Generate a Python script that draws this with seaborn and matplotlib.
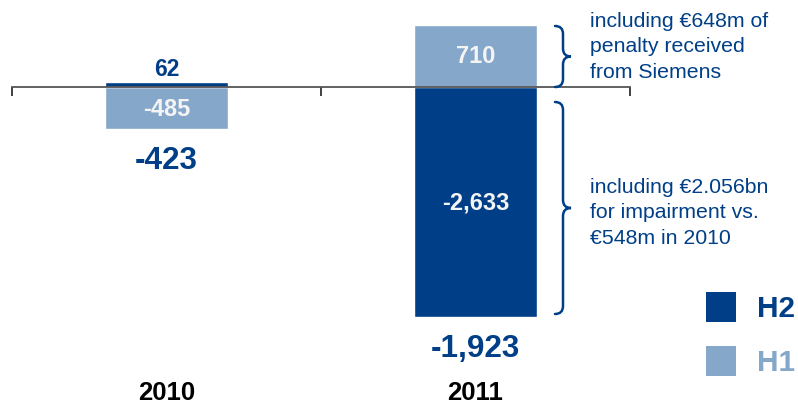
import matplotlib
matplotlib.use("Agg")
import matplotlib.pyplot as plt
import numpy as np
import pandas as pd
import seaborn as sns
from matplotlib.path import Path
from matplotlib.patches import PathPatch, Rectangle

# ---- data ----
years = ["2010", "2011"]
h1_values = [-485, 710]
h2_values = [62, -2633]
h1_labels = ["-485", "710"]
h2_labels = ["62", "-2,633"]
total_labels = ["-423", "-1,923"]
series = ["H2", "H1"]
notes = [
    "including €648m of\npenalty received\nfrom Siemens",
    "including €2.056bn\nfor impairment vs.\n€548m in 2010",
]

DARK = "#003F87"
LIGHT = "#85A7C9"

sns.set_theme(style="white")
plt.rcParams["font.family"] = ["Liberation Sans", "DejaVu Sans"]

W, H = 798, 406
fig = plt.figure(figsize=(W / 100, H / 100), dpi=100)
ax = fig.add_axes([12 / W, 0, 618 / W, 1])

df = pd.DataFrame({
    "year": years * 2,
    "value": h1_values + h2_values,
    "half": ["H1"] * len(years) + ["H2"] * len(years),
})
sns.barplot(data=df, x="year", y="value", hue="half",
            palette={"H1": LIGHT, "H2": DARK}, dodge=False, width=0.4,
            saturation=1, errorbar=None, legend=False, ax=ax)

ax.set_xlim(-0.5, 1.5)
ax.set_ylim(-3634, 1006)
ax.set_xlabel("")
ax.set_ylabel("")
ax.set_yticks([])
for s in ["left", "right", "top"]:
    ax.spines[s].set_visible(False)
ax.spines["bottom"].set_position(("data", 0))
ax.spines["bottom"].set_color("#555555")
ax.spines["bottom"].set_linewidth(1.3)
ax.spines["bottom"].set_zorder(5)
ax.set_xticks([-0.5, 0.5, 1.5])
ax.set_xticklabels(["", "", ""])
ax.tick_params(axis="x", direction="out", length=6.5, width=1.3,
               color="#333333", bottom=True)
ax.set_facecolor("white")

# value labels
for i in range(len(years)):
    for vals, labs in ((h1_values, h1_labels), (h2_values, h2_labels)):
        v = vals[i]
        if abs(v) < 200:
            ax.annotate(labs[i], xy=(i, v), xytext=(0, 2), textcoords="offset pixels",
                        ha="center", va="bottom", fontsize=16.5, fontweight="bold",
                        color=DARK)
        else:
            ax.text(i, v / 2, labs[i], ha="center", va="center", fontsize=17,
                    fontweight="bold", color="#F4F4F4", zorder=6)
    low = min(h1_values[i], h2_values[i], 0)
    ax.annotate(total_labels[i], xy=(i, low), xytext=(0, -16), textcoords="offset pixels",
                ha="center", va="top", fontsize=22.7, fontweight="bold", color=DARK)
    ax.text(i, 1 - 393 / H, years[i], transform=ax.get_xaxis_transform(),
            ha="center", va="center", fontsize=18.5, fontweight="bold", color="black")

# overlay in pixel coordinates for notes, braces and legend
ov = fig.add_axes([0, 0, 1, 1])
ov.set_xlim(0, W)
ov.set_ylim(H, 0)
ov.axis("off")
ov.patch.set_alpha(0)


def brace(x, y0, y1, w=8, r=8):
    ym = (y0 + y1) / 2
    verts = [(x - w, y0), (x, y0), (x, y0 + r),
             (x, ym - r), (x, ym), (x + w, ym),
             (x, ym), (x, ym + r),
             (x, y1 - r), (x, y1), (x - w, y1)]
    codes = [Path.MOVETO, Path.CURVE3, Path.CURVE3,
             Path.LINETO, Path.CURVE3, Path.CURVE3,
             Path.CURVE3, Path.CURVE3,
             Path.LINETO, Path.CURVE3, Path.CURVE3]
    ov.add_patch(PathPatch(Path(verts, codes), fill=False, lw=1.8,
                           edgecolor=DARK, capstyle="round"))


brace(563, 27, 88)
brace(563, 103, 315)

ov.text(590, 47, notes[0], ha="left", va="center", fontsize=15.3,
        color=DARK, linespacing=1.45)
ov.text(590, 213, notes[1], ha="left", va="center", fontsize=15.3,
        color=DARK, linespacing=1.45)

# legend
for name, y, col in ((series[0], 293, DARK), (series[1], 347, LIGHT)):
    ov.add_patch(Rectangle((706, y), 30, 30, facecolor=col, edgecolor="none"))
    ov.text(757, y + 16, name, ha="left", va="center", fontsize=21.5,
            fontweight="bold", color=col)

fig.savefig("out.png", dpi=100)
